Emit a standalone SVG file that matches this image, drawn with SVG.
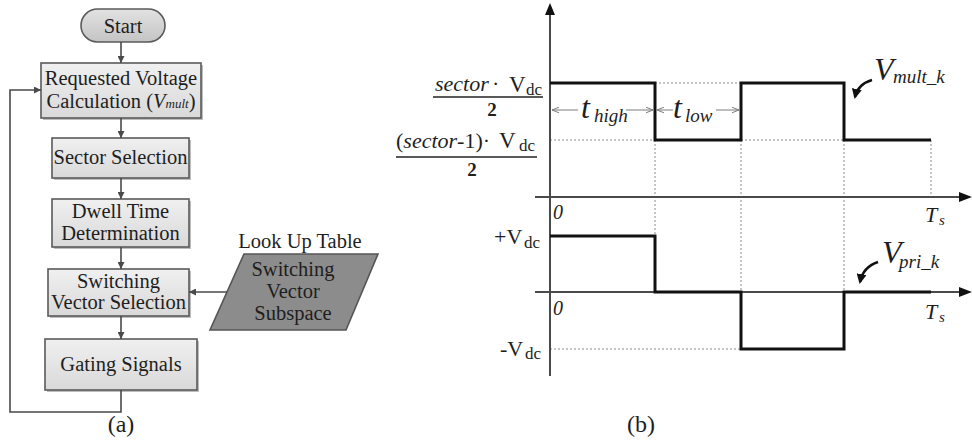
<svg xmlns="http://www.w3.org/2000/svg" width="972" height="440" viewBox="0 0 972 440" font-family="'Liberation Serif', 'Times New Roman', serif">
  <style>
    text { font-family: 'Liberation Serif', 'Times New Roman', serif; fill: #1e1e1e; }
    .box { fill: url(#boxFill); stroke: #5a5a5a; stroke-width: 1.6; }
    .shadow { fill: #bdbdbd; }
    .lbl { font-size: 20.5px; text-anchor: middle; }
    .flow { stroke: #4a4a4a; stroke-width: 1.6; fill: none; }
    .axis { stroke: #4a4a4a; stroke-width: 2; fill: none; }
    .wave { stroke: #111; stroke-width: 3; fill: none; stroke-linejoin: miter; }
    .dot { stroke: #8a8a8a; stroke-width: 1; stroke-dasharray: 2 2; fill: none; }
    .dim { stroke: #7a7a7a; stroke-width: 1; fill: none; }
    .it { font-style: italic; }
  </style>
  <defs>
    <linearGradient id="boxFill" x1="0" y1="0" x2="0" y2="1">
      <stop offset="0" stop-color="#f0f0f0"/>
      <stop offset="1" stop-color="#d9d9d9"/>
    </linearGradient>
    <linearGradient id="pillFill" x1="0" y1="0" x2="0" y2="1">
      <stop offset="0" stop-color="#e2e2e2"/>
      <stop offset="1" stop-color="#c4c4c4"/>
    </linearGradient>
    <marker id="flowHead" viewBox="0 0 10 10" refX="10" refY="5" markerWidth="7" markerHeight="7" markerUnits="userSpaceOnUse" orient="auto">
      <path d="M0 0 L10 5 L0 10 Z" fill="#4a4a4a"/>
    </marker>
    <marker id="dimHead" viewBox="0 0 10 10" refX="10" refY="5" markerWidth="7" markerHeight="7" markerUnits="userSpaceOnUse" orient="auto">
      <path d="M0 1 L10 5 L0 9" fill="none" stroke="#7a7a7a" stroke-width="1.4"/>
    </marker>
    <marker id="curveHead" viewBox="0 0 10 10" refX="8" refY="5" markerWidth="10" markerHeight="10" markerUnits="userSpaceOnUse" orient="auto">
      <path d="M0 0 L10 5 L0 10 Z" fill="#111"/>
    </marker>
  </defs>

  <!-- (a) flowchart nodes -->
  <g id="start">
    <rect x="81" y="9" width="84" height="33" rx="16.5" fill="url(#pillFill)" stroke="#5a5a5a" stroke-width="1.6"/>
    <text x="123" y="33" class="lbl">Start</text>
  </g>
  <g id="voltage-calc">
    <rect x="43" y="65" width="160" height="55" class="shadow"/>
    <rect x="41" y="63" width="160" height="55" class="box"/>
    <text x="121" y="85" class="lbl">Requested Voltage</text>
    <text x="121" y="108" class="lbl">Calculation (<tspan class="it">V</tspan><tspan class="it" font-size="13">mult</tspan>)</text>
  </g>
  <g id="sector-selection">
    <rect x="54" y="140" width="137" height="40" class="shadow"/>
    <rect x="52" y="138" width="137" height="40" class="box"/>
    <text x="120.5" y="164" class="lbl">Sector Selection</text>
  </g>
  <g id="dwell-time">
    <rect x="54" y="201" width="137" height="48" class="shadow"/>
    <rect x="52" y="199" width="137" height="48" class="box"/>
    <text x="120.5" y="218" class="lbl">Dwell Time</text>
    <text x="120.5" y="240" class="lbl">Determination</text>
  </g>
  <g id="vector-selection">
    <rect x="50" y="271" width="141" height="47" class="shadow"/>
    <rect x="48" y="269" width="141" height="47" class="box"/>
    <text x="118.5" y="288" class="lbl">Switching</text>
    <text x="118.5" y="309" class="lbl">Vector Selection</text>
  </g>
  <g id="gating-signals">
    <rect x="47" y="341" width="152" height="51" class="shadow"/>
    <rect x="45" y="339" width="152" height="51" class="box"/>
    <text x="121" y="371" class="lbl">Gating Signals</text>
  </g>
  <g id="lookup-table">
    <text x="300" y="248" class="lbl">Look Up Table</text>
    <polygon points="244,254 378,254 346,330 210,330" fill="#8c8c8c" stroke="#555" stroke-width="1.6"/>
    <text x="293" y="276" class="lbl">Switching</text>
    <text x="293" y="298" class="lbl">Vector</text>
    <text x="293" y="320" class="lbl">Subspace</text>
  </g>

  <!-- (a) flowchart connectors -->
  <g id="connectors">
    <line x1="121" y1="42" x2="121" y2="63" class="flow" marker-end="url(#flowHead)"/>
    <line x1="121" y1="118" x2="121" y2="138" class="flow" marker-end="url(#flowHead)"/>
    <line x1="121" y1="178" x2="121" y2="199" class="flow" marker-end="url(#flowHead)"/>
    <line x1="121" y1="247" x2="121" y2="269" class="flow" marker-end="url(#flowHead)"/>
    <line x1="121" y1="316" x2="121" y2="339" class="flow" marker-end="url(#flowHead)"/>
    <line x1="227" y1="292" x2="189" y2="292" class="flow" marker-end="url(#flowHead)"/>
    <polyline points="121,390 121,412 10,412 10,90 41,90" class="flow" marker-end="url(#flowHead)"/>
  </g>
  <text x="121" y="432" font-size="24" text-anchor="middle">(a)</text>

  <!-- (b) waveforms -->
  <g id="guides">
    <line x1="655" y1="83" x2="741" y2="83" class="dot"/>
    <line x1="550" y1="140" x2="655" y2="140" class="dot"/>
    <line x1="741" y1="140" x2="844" y2="140" class="dot"/>
    <line x1="655" y1="140" x2="655" y2="236" class="dot"/>
    <line x1="741" y1="140" x2="741" y2="292" class="dot"/>
    <line x1="844" y1="140" x2="844" y2="292" class="dot"/>
    <line x1="931" y1="140" x2="931" y2="197" class="dot"/>
    <line x1="550" y1="349" x2="741" y2="349" class="dot"/>
  </g>
  <g id="axes">
    <line x1="550" y1="12" x2="550" y2="376" class="axis"/>
    <polygon points="550,3 545,15 555,15" fill="#111"/>
    <line x1="535" y1="197" x2="960" y2="197" class="axis"/>
    <polygon points="972,197 959,192 959,202" fill="#111"/>
    <line x1="535" y1="292" x2="960" y2="292" class="axis"/>
    <polygon points="972,292 959,287 959,297" fill="#111"/>
  </g>
  <g id="waves">
    <path d="M550 83 H655 V140 H741 V83 H844 V140 H931" class="wave"/>
    <path d="M550 236 H655 V292 H741 V349 H844 V292 H931" class="wave"/>
  </g>

  <!-- time intervals -->
  <g id="intervals">
    <line x1="578" y1="110" x2="552" y2="110" class="dim" marker-end="url(#dimHead)"/>
    <line x1="626" y1="110" x2="653" y2="110" class="dim" marker-end="url(#dimHead)"/>
    <line x1="673" y1="110" x2="657" y2="110" class="dim" marker-end="url(#dimHead)"/>
    <line x1="716" y1="110" x2="739" y2="110" class="dim" marker-end="url(#dimHead)"/>
    <text x="581" y="118" font-size="32" class="it">t</text>
    <text x="594" y="122" font-size="19" class="it">high</text>
    <text x="673" y="118" font-size="32" class="it">t</text>
    <text x="685" y="122" font-size="19" class="it">low</text>
  </g>

  <!-- level labels -->
  <g id="levels">
    <text x="435" y="91" font-size="22" class="it">sector</text>
    <text x="492" y="91" font-size="22">·</text>
    <text x="509" y="92" font-size="23">V</text>
    <text x="526" y="95" font-size="17">dc</text>
    <line x1="433" y1="97" x2="543" y2="97" stroke="#222" stroke-width="1.4"/>
    <text x="492" y="116" font-size="19" font-weight="bold" text-anchor="middle">2</text>

    <text x="396" y="148" font-size="22">(<tspan class="it">sector</tspan>-1)·</text>
    <text x="499" y="148" font-size="23">V</text>
    <text x="519" y="151" font-size="17">dc</text>
    <line x1="396" y1="157" x2="537" y2="157" stroke="#222" stroke-width="1.4"/>
    <text x="472" y="176" font-size="19" font-weight="bold" text-anchor="middle">2</text>

    <text x="494" y="244" font-size="22">+V</text>
    <text x="524" y="248" font-size="17">dc</text>
    <text x="500" y="356" font-size="22">-V</text>
    <text x="525" y="359" font-size="17">dc</text>

    <text x="553" y="219" font-size="20" class="it">0</text>
    <text x="553" y="315" font-size="20" class="it">0</text>
    <text x="925" y="222" font-size="22" class="it">T</text>
    <text x="939" y="225" font-size="15" class="it">s</text>
    <text x="925" y="319" font-size="22" class="it">T</text>
    <text x="939" y="322" font-size="15" class="it">s</text>
  </g>

  <!-- signal names -->
  <g id="signal-labels">
    <path d="M872 80 Q858 84 855 97" stroke="#111" stroke-width="2.5" fill="none" marker-end="url(#curveHead)"/>
    <text x="874" y="80" font-size="32" class="it">V</text>
    <text x="893" y="83" font-size="19" class="it">mult_k</text>
    <path d="M878 262 Q863 267 860 282" stroke="#111" stroke-width="2.5" fill="none" marker-end="url(#curveHead)"/>
    <text x="882" y="263" font-size="32" class="it">V</text>
    <text x="899" y="268" font-size="19" class="it">pri_k</text>
  </g>
  <text x="641" y="432" font-size="24" text-anchor="middle">(b)</text>
</svg>
